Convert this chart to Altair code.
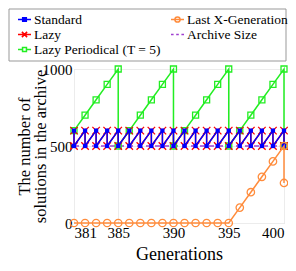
import altair as alt
import pandas as pd

# ---- data ----
generations = [381, 382, 383, 384, 385, 386, 387, 388, 389, 390,
               391, 392, 393, 394, 395, 396, 397, 398, 399, 400]
# value after adding offspring (pre) and after truncation (post); None = no drop
standard_pre = [600, 600, 600, 600, 600, 600, 600, 600, 600, 600,
                600, 600, 600, 600, 600, 600, 600, 600, 600, 600]
standard_post = [500, 500, 500, 500, 500, 500, 500, 500, 500, 500,
                 500, 500, 500, 500, 500, 500, 500, 500, 500, 500]
lazy_pre = [600, 600, 600, 600, 600, 600, 600, 600, 600, 600,
            600, 600, 600, 600, 600, 600, 600, 600, 600, 600]
lazy_post = [500, 500, 500, 500, 500, 500, 500, 500, 500, 500,
             500, 500, 500, 500, 500, 500, 500, 500, 500, 500]
periodical_pre = [600, 700, 800, 900, 1000, 600, 700, 800, 900, 1000,
                  600, 700, 800, 900, 1000, 600, 700, 800, 900, 1000]
periodical_post = [None, None, None, None, 500, None, None, None, None, 500,
                   None, None, None, None, 500, None, None, None, None, 500]
lastx_pre = [0, 0, 0, 0, 0, 0, 0, 0, 0, 0,
             0, 0, 0, 0, 0, 100, 200, 300, 400, 500]
lastx_post = [None, None, None, None, None, None, None, None, None, None,
              None, None, None, None, None, None, None, None, None, 260]
archive_size = [500, 500, 500, 500, 500, 500, 500, 500, 500, 500,
                500, 500, 500, 500, 500, 500, 500, 500, 500, 500]

x_ticks = [381, 385, 390, 395, 400]
y_ticks = [0, 500, 1000]

S_STD = "Standard"
S_LAZY = "Lazy"
S_PER = "Lazy Periodical (T = 5)"
S_LAST = "Last X-Generation"
S_ARC = "Archive Size"

rows = []
def add(name, pre, post):
    i = 0
    for g, a, b in zip(generations, pre, post):
        rows.append({"series": name, "gen": g, "value": a, "idx": i}); i += 1
        if b is not None:
            rows.append({"series": name, "gen": g, "value": b, "idx": i}); i += 1

add(S_STD, standard_pre, standard_post)
add(S_LAZY, lazy_pre, lazy_post)
add(S_PER, periodical_pre, periodical_post)
add(S_LAST, lastx_pre, lastx_post)
add(S_ARC, archive_size, [None] * len(generations))
df = pd.DataFrame(rows)

BLUE = "#0000ff"
RED = "#ff0000"
GREEN = "#22ee22"
ORANGE = "#ff8c3c"
PURPLE = "#a040d0"

FONT = "Liberation Serif"
LFONT = "Liberation Serif"

x_enc = alt.X("gen:Q",
              scale=alt.Scale(domain=[381, 400], nice=False, zero=False),
              axis=alt.Axis(values=x_ticks, format="d", title="Generations",
                            labelFont=LFONT))
y_enc = alt.Y("value:Q",
              scale=alt.Scale(domain=[0, 1000], nice=False),
              axis=alt.Axis(values=y_ticks, format="d", titleX=-42, labelFont=LFONT,
                            title=["The number of", "solutions in the archive"]))

base = alt.Chart(df).encode(x=x_enc, y=y_enc, order=alt.Order("idx:Q"))

def series(name):
    return base.transform_filter(alt.datum.series == name)

X_PATH = "M-1,-1L1,1M-1,1L1,-1"

archive = series(S_ARC).mark_line(color=PURPLE, strokeWidth=1.3, strokeDash=[5, 4])
per_line = series(S_PER).mark_line(color=GREEN, strokeWidth=1.5)
per_pts = series(S_PER).mark_point(shape="square", filled=False, color=GREEN,
                                   size=36, strokeWidth=1.3, opacity=1)
lazy_line = series(S_LAZY).mark_line(color=RED, strokeWidth=1.5)
lazy_pts = series(S_LAZY).mark_point(shape=X_PATH, filled=False, color=RED,
                                     size=56, strokeWidth=1.3, opacity=1)
std_line = series(S_STD).mark_line(color=BLUE, strokeWidth=1.4)
std_pts = series(S_STD).mark_point(shape="square", filled=True, color=BLUE,
                                   size=18, opacity=1)
last_line = series(S_LAST).mark_line(color=ORANGE, strokeWidth=1.5)
last_pts = series(S_LAST).mark_point(shape="circle", filled=False, color=ORANGE,
                                     size=55, strokeWidth=1.3, opacity=1)

# frame around the legend
legend_frame = alt.Chart(pd.DataFrame({"frame": [0]})).mark_rect(
    fillOpacity=0, stroke="#999999", strokeWidth=1
).encode(
    x=alt.value(-65), x2=alt.value(212), y=alt.value(-60), y2=alt.value(-8)
)

# legend (entries fill the first column, then the second)
leg_domain = [S_STD, S_LAZY, S_PER, S_LAST, S_ARC]
leg_stroke = [BLUE, RED, GREEN, ORANGE, PURPLE]
leg_fill = [BLUE, "transparent", "white", "transparent", "transparent"]
leg_shape = [
    "M-1,0H1M-0.28,-0.28H0.28V0.28H-0.28Z",
    "M-1,0H1M-0.4,-0.4L0.4,0.4M-0.4,0.4L0.4,-0.4",
    "M-1,0H-0.3M0.3,0H1M-0.3,-0.3H0.3V0.3H-0.3Z",
    "M-1,0H1M0.4,0A0.4,0.4,0,1,1,-0.4,0A0.4,0.4,0,1,1,0.4,0",
    "M-1,0H-0.6M-0.2,0H0.2M0.6,0H1",
]
leg = alt.Legend(title=None, orient="top-left", offset=-60,
                 columns=2, columnPadding=7, rowPadding=1, padding=3,
                 labelFont=LFONT, labelFontSize=13.5, labelColor="black",
                 labelLimit=400, labelOffset=2, symbolSize=169)
legend_layer = alt.Chart(df).transform_filter("false").mark_point(
    filled=False, strokeWidth=1.5, opacity=1
).encode(
    x=x_enc, y=y_enc,
    stroke=alt.Stroke("series:N", scale=alt.Scale(domain=leg_domain, range=leg_stroke), legend=leg),
    fill=alt.Fill("series:N", scale=alt.Scale(domain=leg_domain, range=leg_fill), legend=leg),
    shape=alt.Shape("series:N", scale=alt.Scale(domain=leg_domain, range=leg_shape), legend=leg),
)

chart = alt.layer(
    legend_frame, archive, per_line, per_pts, lazy_line, lazy_pts, std_line, std_pts,
    last_line, last_pts, legend_layer
).properties(
    width=210, height=154,
    autosize=alt.AutoSizeParams(type="none"),
    padding={"left": 66, "top": 61, "right": 4, "bottom": 40},
).configure(
    font=FONT
).configure_view(
    stroke="#d4d4d4", strokeWidth=1
).configure_legend(
    labelFont=LFONT, labelFontSize=13.5, labelColor="black", padding=3,
).configure_axis(
    labelFont=LFONT, labelFontSize=15, labelColor="black",
    titleFont=FONT, titleFontSize=17, titleColor="black", titleFontWeight="normal",
    grid=True, gridColor="#ececec", domain=False, ticks=False, labelPadding=2,
).configure_axisY(
    titleLineHeight=16, titleFontSize=16.5, titlePadding=2,
).configure_axisX(
    titlePadding=5, titleFontSize=18,
)

chart.save("out.html", embed_options={"renderer": "svg", "actions": False})
